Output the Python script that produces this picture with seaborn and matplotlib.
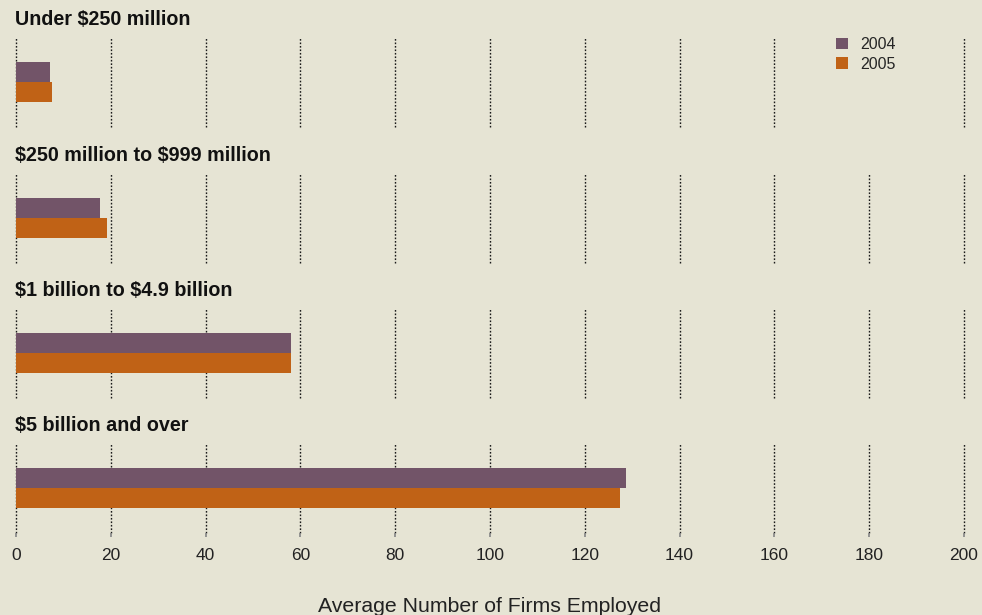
import matplotlib
matplotlib.use("Agg")
import matplotlib.pyplot as plt
import seaborn as sns
import pandas as pd
from matplotlib.patches import Patch

categories = ["Under $250 million", "$250 million to $999 million",
              "$1 billion to $4.9 billion", "$5 billion and over"]
years = ["2004", "2005"]
values_2004 = [7.2, 17.7, 58.0, 128.7]
values_2005 = [7.6, 19.2, 58.0, 127.4]
xticks = [0, 20, 40, 60, 80, 100, 120, 140, 160, 180, 200]
colors = ["#725468", "#C06216"]
bg = "#E6E4D4"

sns.set_theme(style="white")
plt.rcParams["font.family"] = ["Liberation Sans", "DejaVu Sans"]

rows = []
for c, a, b in zip(categories, values_2004, values_2005):
    rows.append({"cat": c, "year": "2004", "val": a})
    rows.append({"cat": c, "year": "2005", "val": b})
df = pd.DataFrame(rows)

W, H = 982, 615
fig = plt.figure(figsize=(W / 100, H / 100), dpi=100)
fig.patch.set_facecolor(bg)

left = 16 / W
width = (964 - 16) / W
tops = [37, 173, 308, 443]
ah = 90

for i, cat in enumerate(categories):
    ax = fig.add_axes([left, 1 - (tops[i] + ah) / H, width, ah / H])
    ax.set_facecolor(bg)
    sub = df[df["cat"] == cat]
    sns.barplot(data=sub, x="val", y="cat", hue="year", hue_order=years,
                palette=colors, orient="h", width=0.8, saturation=1,
                ax=ax, legend=False, linewidth=0)
    ax.set_xlim(0, 200)
    ax.set_ylim(0.923, -0.923)
    ax.set_xticks(xticks)
    ax.grid(axis="x", linestyle=(0, (1.2, 1.3)), color="#1a1a1a", lw=1.0)
    for gl in ax.get_xgridlines():
        gl.set_clip_on(False)
    ax.grid(axis="y", visible=False)
    ax.set_axisbelow(True)
    for s in ax.spines.values():
        s.set_visible(False)
    ax.set_yticks([])
    ax.set_ylabel("")
    ax.set_xlabel("")
    ax.text(-0.001, 1.09, cat, transform=ax.transAxes, fontsize=14.2,
            fontweight="bold", ha="left", va="bottom", color="#111111",
            parse_math=False)
    if i < 3:
        ax.tick_params(axis="x", length=0, labelbottom=False)
    else:
        ax.tick_params(axis="x", length=3, color="#888888", labelsize=12.5,
                       labelcolor="#222222", pad=8, bottom=True)
        ax.set_xlabel("Average Number of Firms Employed", fontsize=15.3,
                      color="#222222", labelpad=24)
    if i == 0:
        # the legend sits where the 180 gridline would be in the top panel
        ax.get_xgridlines()[xticks.index(180)].set_visible(False)
        handles = [Patch(facecolor=c, edgecolor="none", label=y)
                   for c, y in zip(colors, years)]
        ax.legend(handles=handles, loc="upper left",
                  bbox_to_anchor=((836 - 16) / (964 - 16), 1.0),
                  frameon=False, fontsize=11.5, handlelength=0.75,
                  handleheight=0.75, handletextpad=0.75, labelspacing=0.3,
                  borderaxespad=0, borderpad=0)

fig.savefig("out.png", dpi=100, facecolor=bg)
